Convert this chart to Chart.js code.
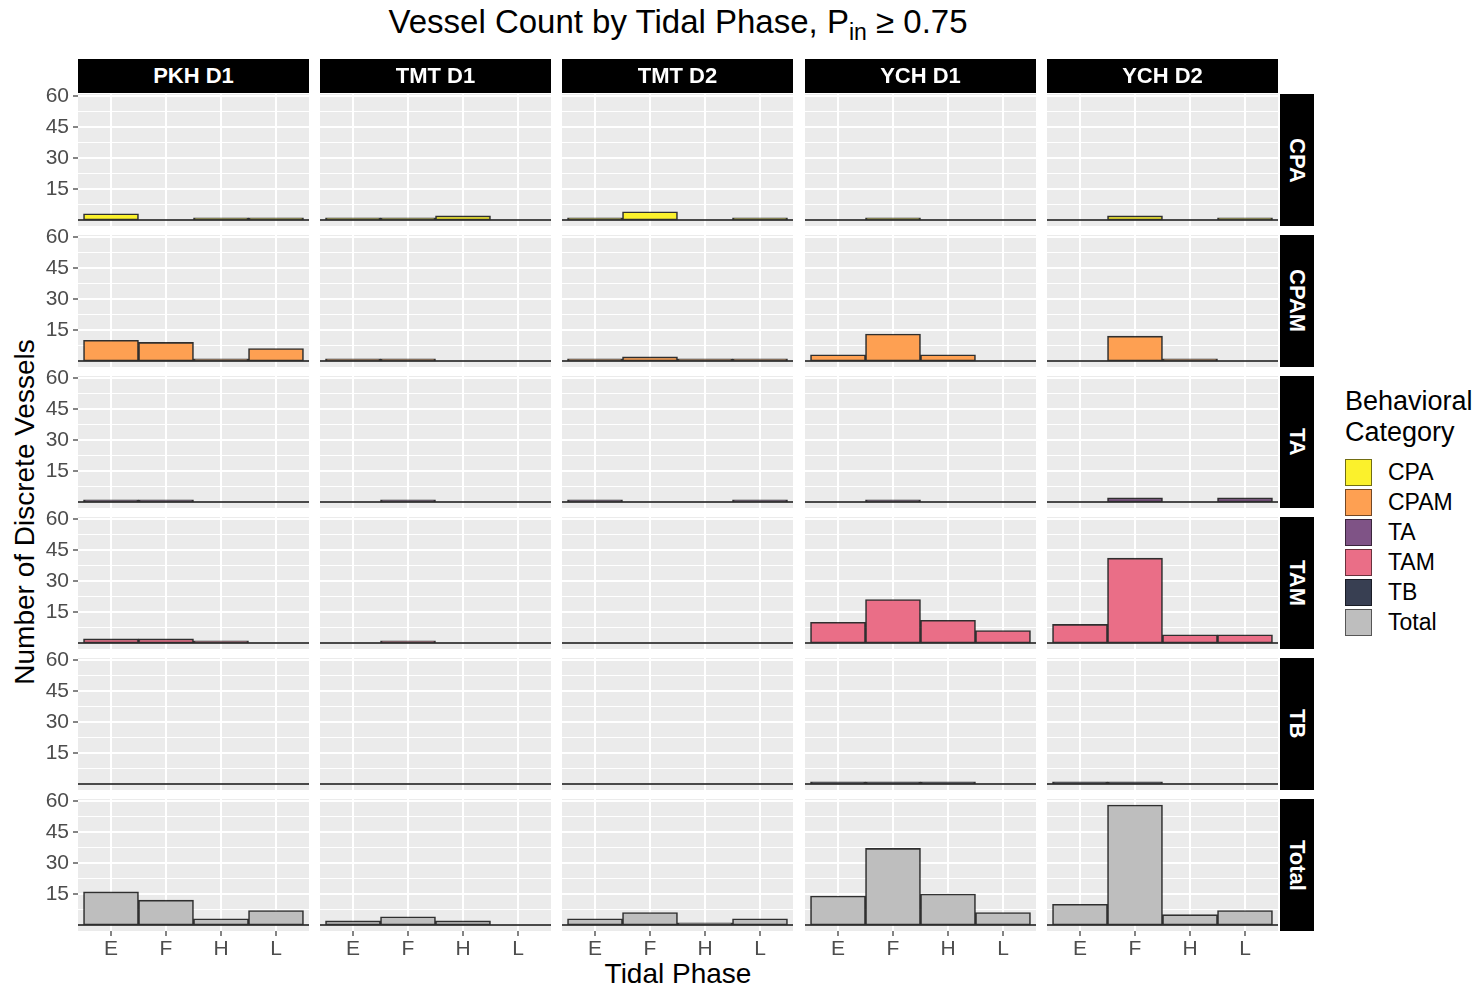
<!DOCTYPE html>
<html>
<head>
<meta charset="utf-8">
<script src="https://cdn.jsdelivr.net/npm/chart.js@4.4.1/dist/chart.umd.min.js"></script>
<style>
  body{margin:0;background:#fff;}
  #page{position:relative;width:1480px;height:989px;overflow:hidden;background:#fff;
        font-family:"Liberation Sans",Arial,sans-serif;color:#000;}
  #page canvas{position:absolute;}
  .strip{position:absolute;background:#000;color:#fff;font-weight:bold;font-size:22px;
         display:flex;align-items:center;justify-content:center;}
  .strip.side span{writing-mode:vertical-rl;}
  #title{position:absolute;left:0;width:1356px;top:3px;text-align:center;font-size:33px;}
  #title sub{font-size:23px;vertical-align:-7px;line-height:0;}
  #xtitle{position:absolute;left:78px;width:1200px;top:958px;text-align:center;font-size:28px;}
  #ytitle{position:absolute;left:25px;top:512px;font-size:28px;white-space:nowrap;
          transform:translate(-50%,-50%) rotate(-90deg);}
  #legend{position:absolute;left:1345px;top:386px;}
  #legend .lt{font-size:27px;line-height:31px;}
  #legend .row{display:flex;align-items:center;height:30px;}
  #legend .key{width:27px;height:27px;box-sizing:border-box;border:1px solid rgba(0,0,0,.55);}
  #legend .lab{font-size:23px;margin-left:16px;}
</style>
</head>
<body>
<div id="page">
  <div id="title">Vessel Count by Tidal Phase, P<sub>in</sub> ≥ 0.75</div>
  <div id="ytitle">Number of Discrete Vessels</div>
  <div id="xtitle">Tidal Phase</div>
  <div id="legend"><div class="lt">Behavioral<br>Category</div><div id="keys" style="margin-top:9px"></div></div>
</div>
<script>
// --- data ---
const phases=['E','F','H','L'];
const sites=['PKH D1','TMT D1','TMT D2','YCH D1','YCH D2'];
const categories=['CPA','CPAM','TA','TAM','TB','Total'];
const yTicks=[15,30,45,60];

// one row per site, values for E,F,H,L
const cpa  =[[3,0,1,1],[1,1,2,0],[1,4,0,1],[0,1,0,0],[0,2,0,1]];
const cpam =[[10,9,1,6],[1,1,0,0],[1,2,1,1],[3,13,3,0],[0,12,1,0]];
const ta   =[[1,1,0,0],[0,1,0,0],[1,0,0,1],[0,1,0,0],[0,2,0,2]];
const tam  =[[2,2,1,0],[0,1,0,0],[0,0,0,0],[10,21,11,6],[9,41,4,4]];
const tb   =[[0,0,0,0],[0,0,0,0],[0,0,0,0],[1,1,1,0],[1,1,0,0]];
const total=[[16,12,3,7],[2,4,2,0],[3,6,1,3],[14,37,15,6],[10,58,5,7]];
const series=[cpa,cpam,ta,tam,tb,total];

const COLORS=['#FBF12C','#FEA052','#7F5386','#EA6E87','#383F52','#BEBEBE'];

// --- layout ---
const COL_L=[78,320,562,805,1047], COL_W=231;
const ROW_T=[94,235,376,517,658,799], ROW_H=132;
const Y_MIN=-2.9, Y_MAX=60.9;
const YAX_W=48, XAX_H=29, PAD=2, PAD_V=18;

Chart.defaults.font.family='"Liberation Sans", Arial, sans-serif';
Chart.defaults.animation=false;

const page=document.getElementById('page');

const panelBg={id:'panelBg',beforeDraw(c){
  const a=c.chartArea,x=c.ctx;
  x.save(); x.fillStyle='#EBEBEB'; x.fillRect(a.left,a.top,a.right-a.left,a.bottom-a.top); x.restore();
}};
const zeroLine={id:'zeroLine',afterDatasetsDraw(c){
  const a=c.chartArea,x=c.ctx,y=c.scales.y.getPixelForValue(0);
  x.save(); x.strokeStyle='rgba(45,45,45,0.85)'; x.lineWidth=2;
  x.beginPath(); x.moveTo(a.left,y); x.lineTo(a.right,y); x.stroke(); x.restore();
}};

const minorOf=v=>v%15!==0;

function makePanel(r,c){
  const first=c===0, last=r===categories.length-1;
  const left=COL_L[c]-(first?YAX_W:PAD), top=ROW_T[r]-PAD_V;
  const w=COL_W+(first?YAX_W:PAD)+PAD, h=ROW_H+PAD_V+(last?XAX_H:PAD_V);
  const cv=document.createElement('canvas');
  cv.width=w; cv.height=h; cv.style.left=left+'px'; cv.style.top=top+'px';
  page.appendChild(cv);
  const vals=series[r][c];
  new Chart(cv,{
    type:'bar',
    data:{datasets:[{
      data:phases.map((p,i)=>({x:i,y:vals[i]})),
      backgroundColor:COLORS[r],borderColor:'rgba(0,0,0,0.8)',borderWidth:1.6,
      borderSkipped:false,barPercentage:1,categoryPercentage:1
    }]},
    options:{
      responsive:false,maintainAspectRatio:false,
      layout:{padding:{top:PAD_V,right:PAD,bottom:last?0:PAD_V,left:first?0:PAD}},
      plugins:{legend:{display:false},tooltip:{enabled:false}},
      scales:{
        x:{type:'linear',min:-0.6,max:3.6,offset:false,
          afterBuildTicks:s=>{s.ticks=phases.map((p,i)=>({value:i}));},
          afterFit:s=>{s.height=last?XAX_H:0;},
          border:{display:false},
          grid:{color:'#FFFFFF',lineWidth:2,offset:false,drawTicks:last,tickLength:5,tickColor:'#333333',tickWidth:1.2},
          ticks:{display:last,autoSkip:false,padding:1,color:'#4D4D4D',font:{size:21},maxRotation:0,
            callback:v=>phases[v]}
        },
        y:{min:Y_MIN,max:Y_MAX,
          afterBuildTicks:s=>{
            const t=[];
            yTicks.forEach(v=>{t.push({value:v-7.5});t.push({value:v});});
            s.ticks=t;
          },
          afterFit:s=>{s.width=first?YAX_W:0;},
          border:{display:false},
          grid:{color:'#FFFFFF',lineWidth:ctx=>minorOf(ctx.tick.value)?1:2,
            drawTicks:first,tickLength:5,tickWidth:1.2,
            tickColor:ctx=>minorOf(ctx.tick.value)?'rgba(0,0,0,0)':'#333333'},
          ticks:{display:first,autoSkip:false,padding:4,color:'#4D4D4D',font:{size:21},
            callback:v=>minorOf(v)?'':String(v)}
        }
      }
    },
    plugins:[panelBg,zeroLine]
  });
}

categories.forEach((cat,r)=>sites.forEach((s,c)=>makePanel(r,c)));

// strips
sites.forEach((s,c)=>{
  const d=document.createElement('div');
  d.className='strip'; d.textContent=s;
  Object.assign(d.style,{left:COL_L[c]+'px',top:'59px',width:COL_W+'px',height:'34px'});
  page.appendChild(d);
});
categories.forEach((cat,r)=>{
  const d=document.createElement('div');
  d.className='strip side'; d.innerHTML='<span>'+cat+'</span>';
  Object.assign(d.style,{left:'1280px',top:ROW_T[r]+'px',width:'34px',height:ROW_H+'px'});
  page.appendChild(d);
});

// legend
const keys=document.getElementById('keys');
categories.forEach((cat,i)=>{
  const row=document.createElement('div'); row.className='row';
  row.innerHTML='<div class="key" style="background:'+COLORS[i]+'"></div><div class="lab">'+cat+'</div>';
  keys.appendChild(row);
});
</script>
</body>
</html>
